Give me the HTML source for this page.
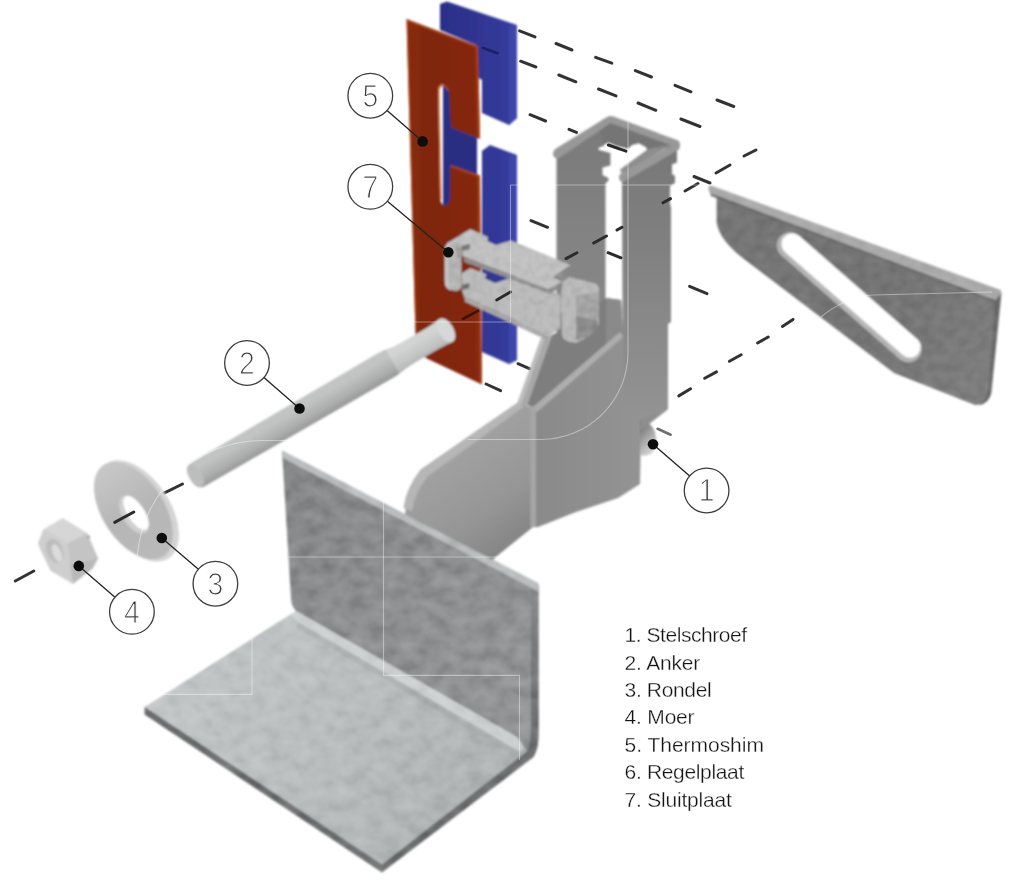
<!DOCTYPE html>
<html lang="nl">
<head>
<meta charset="utf-8">
<title>Exploded view</title>
<style>
html,body{margin:0;padding:0;background:#fff;}
body{width:1020px;height:880px;overflow:hidden;position:relative;font-family:"Liberation Sans",sans-serif;}
svg{position:absolute;left:0;top:0;display:block;}
.legend{position:absolute;left:624.6px;top:621.4px;font-size:21px;line-height:27.36px;color:#141414;white-space:nowrap;-webkit-text-stroke:0.3px #ffffff;filter:blur(0.35px);}
.legend div{height:27.36px;}
</style>
</head>
<body>
<svg width="1020" height="880" viewBox="0 0 1020 880">
<defs>
  <filter id="soft" filterUnits="userSpaceOnUse" x="0" y="0" width="1020" height="880"><feGaussianBlur stdDeviation="0.8"/></filter>
  <filter id="soft2" filterUnits="userSpaceOnUse" x="0" y="0" width="1020" height="880"><feGaussianBlur stdDeviation="0.6"/></filter>
  <filter id="galv" filterUnits="userSpaceOnUse" x="0" y="0" width="1020" height="880" color-interpolation-filters="sRGB">
    <feTurbulence type="fractalNoise" baseFrequency="0.06 0.08" numOctaves="3" seed="7" result="n"/>
    <feColorMatrix in="n" type="matrix" values="0.42 0 0 0 0.30  0.42 0 0 0 0.30  0.42 0 0 0 0.30  0 0 0 0 1" result="g"/>
    <feBlend in="g" in2="SourceGraphic" mode="soft-light" result="bl"/>
    <feComposite in="bl" in2="SourceGraphic" operator="in"/>
  </filter>
  <filter id="galv2" filterUnits="userSpaceOnUse" x="0" y="0" width="1020" height="880" color-interpolation-filters="sRGB">
    <feTurbulence type="fractalNoise" baseFrequency="0.14 0.16" numOctaves="2" seed="3" result="n"/>
    <feColorMatrix in="n" type="matrix" values="0.35 0 0 0 0.33  0.35 0 0 0 0.33  0.35 0 0 0 0.33  0 0 0 0 1" result="g"/>
    <feBlend in="g" in2="SourceGraphic" mode="soft-light" result="bl"/>
    <feComposite in="bl" in2="SourceGraphic" operator="in"/>
  </filter>
  <linearGradient id="gArm" gradientUnits="userSpaceOnUse" x1="715" y1="200" x2="990" y2="380">
    <stop offset="0" stop-color="#767676"/><stop offset="0.6" stop-color="#747474"/><stop offset="1" stop-color="#7e7e7e"/>
  </linearGradient>
  <filter id="galv3" filterUnits="userSpaceOnUse" x="0" y="0" width="1020" height="880" color-interpolation-filters="sRGB">
    <feTurbulence type="fractalNoise" baseFrequency="0.09 0.11" numOctaves="2" seed="11" result="n"/>
    <feColorMatrix in="n" type="matrix" values="0.22 0 0 0 0.39  0.22 0 0 0 0.39  0.22 0 0 0 0.39  0 0 0 0 1" result="g"/>
    <feBlend in="g" in2="SourceGraphic" mode="soft-light" result="bl"/>
    <feComposite in="bl" in2="SourceGraphic" operator="in"/>
  </filter>
  <linearGradient id="gWash" gradientUnits="userSpaceOnUse" x1="-50" y1="0" x2="50" y2="0">
    <stop offset="0" stop-color="#c6c6c6"/><stop offset="0.5" stop-color="#b6b6b6"/><stop offset="1" stop-color="#b9b9b9"/>
  </linearGradient>
  <linearGradient id="gScrew" gradientUnits="userSpaceOnUse" x1="641" y1="430" x2="657" y2="445">
    <stop offset="0" stop-color="#808080"/><stop offset="0.55" stop-color="#b0b0b0"/><stop offset="1" stop-color="#d0d0d0"/>
  </linearGradient>
  <linearGradient id="gBrL" gradientUnits="userSpaceOnUse" x1="440" y1="450" x2="515" y2="550">
    <stop offset="0" stop-color="#a3a3a3"/><stop offset="0.6" stop-color="#969696"/><stop offset="1" stop-color="#838383"/>
  </linearGradient>
  <linearGradient id="gBrR" gradientUnits="userSpaceOnUse" x1="536" y1="0" x2="668" y2="0">
    <stop offset="0" stop-color="#8a8a8a"/><stop offset="1" stop-color="#969696"/>
  </linearGradient>
  <linearGradient id="gWall" gradientUnits="userSpaceOnUse" x1="0" y1="150" x2="0" y2="420">
    <stop offset="0" stop-color="#787878"/><stop offset="0.35" stop-color="#808080"/><stop offset="0.7" stop-color="#8b8b8b"/><stop offset="1" stop-color="#939393"/>
  </linearGradient>
  <linearGradient id="gWallL" gradientUnits="userSpaceOnUse" x1="0" y1="130" x2="0" y2="340">
    <stop offset="0" stop-color="#7a7a7a"/><stop offset="0.5" stop-color="#838383"/><stop offset="1" stop-color="#8a8a8a"/>
  </linearGradient>
  <linearGradient id="gOr" gradientUnits="userSpaceOnUse" x1="406" y1="0" x2="482" y2="0">
    <stop offset="0" stop-color="#8a2c11"/><stop offset="0.25" stop-color="#7f270f"/><stop offset="1" stop-color="#85290f"/>
  </linearGradient>
  <linearGradient id="gBl" gradientUnits="userSpaceOnUse" x1="440" y1="0" x2="512" y2="0">
    <stop offset="0" stop-color="#2a2e86"/><stop offset="1" stop-color="#353c9c"/>
  </linearGradient>
  <linearGradient id="gLedge" gradientUnits="userSpaceOnUse" x1="0" y1="585" x2="0" y2="740">
    <stop offset="0" stop-color="#8e9091"/><stop offset="0.3" stop-color="#797b7c"/><stop offset="1" stop-color="#6c6e6f"/>
  </linearGradient>
  <linearGradient id="gBolt" gradientUnits="userSpaceOnUse" x1="0" y1="-15" x2="0" y2="15">
    <stop offset="0" stop-color="#c3c4c4"/><stop offset="0.3" stop-color="#c2c3c3"/><stop offset="0.7" stop-color="#adaeae"/><stop offset="1" stop-color="#969696"/>
  </linearGradient>
  <linearGradient id="gLh" gradientUnits="userSpaceOnUse" x1="200" y1="650" x2="480" y2="820">
    <stop offset="0" stop-color="#c0c4c5"/><stop offset="0.5" stop-color="#b8bcbd"/><stop offset="1" stop-color="#adb1b2"/>
  </linearGradient>
  <linearGradient id="gLv" gradientUnits="userSpaceOnUse" x1="285" y1="460" x2="540" y2="700">
    <stop offset="0" stop-color="#838586"/><stop offset="0.5" stop-color="#8c8e8f"/><stop offset="1" stop-color="#929495"/>
  </linearGradient>
</defs>
<g id="dashes-back" stroke="#333333" stroke-width="3" stroke-linecap="round" fill="none" filter="url(#soft2)">
<line x1="519.6" y1="30.8" x2="535" y2="36.9"/>
<line x1="556" y1="43.5" x2="572" y2="50"/>
<line x1="595.6" y1="57.4" x2="611.8" y2="63.2"/>
<line x1="635.3" y1="70.6" x2="651.5" y2="77"/>
<line x1="675" y1="85.3" x2="691" y2="91.8"/>
<line x1="717" y1="100" x2="733.8" y2="106.5"/>
<line x1="520.6" y1="61.2" x2="535.9" y2="67"/>
<line x1="558.8" y1="75" x2="575.9" y2="81.8"/>
<line x1="598.5" y1="89" x2="616" y2="95.9"/>
<line x1="638" y1="103" x2="655.9" y2="110.3"/>
<line x1="680.9" y1="119" x2="700" y2="126.5"/>
<line x1="530" y1="114.7" x2="545.6" y2="121"/>
<line x1="569" y1="129.4" x2="576.5" y2="132.4"/>
<line x1="694" y1="176.5" x2="710" y2="183"/>
<line x1="531" y1="220.6" x2="547.6" y2="227.3"/>
<line x1="744" y1="156" x2="756" y2="150"/>
<line x1="716" y1="173" x2="730" y2="165"/>
<line x1="685" y1="191" x2="698" y2="183.5"/>
<line x1="678.8" y1="395.9" x2="690.6" y2="388.8"/>
<line x1="704.7" y1="378.2" x2="716.5" y2="371.9"/>
<line x1="729.4" y1="361.3" x2="741.2" y2="354.7"/>
<line x1="757.6" y1="343" x2="768.2" y2="337"/>
<line x1="782.4" y1="326.5" x2="793" y2="319.4"/>
<line x1="689.6" y1="286.3" x2="707" y2="293.7"/>
<line x1="486" y1="384" x2="500.6" y2="390.6"/>
<line x1="518" y1="363.7" x2="530" y2="368.8"/>
<line x1="15.3" y1="581" x2="33.8" y2="571"/>
<line x1="161" y1="494.6" x2="182.5" y2="484"/>
</g>
<line x1="657.6" y1="428.8" x2="670.6" y2="434.7" stroke="#4a4a4a" stroke-width="2.6" stroke-linecap="round" opacity="0.8" filter="url(#soft2)"/>
<g id="parts" filter="url(#soft)">
<!-- ARM (right) -->
<g id="arm" filter="url(#galv3)">
  <path d="M712,188 L1000,293 L990,392 Q988,405 975,405 L894,373 L821,317.5 L744,259 Q719,240 716.6,222 L716.6,196 Z" fill="url(#gArm)"/>
  <path d="M709.4,185 Q707.5,189 710,193 L996,300.5 L1001.5,293 L1000.5,290 Z" fill="#aaaaaa"/>
  <path d="M710,193 L996,300.5 L995.5,303 L711,196 Z" fill="#6c6c6c"/>
  <path d="M995,301 L1001.5,293 L991.5,392 Q989.5,404 978,405.5 Q987,401 988,391 Z" fill="#6a6a6a"/>
  <path d="M798.2,235.1 L917.7,339.6 A13.2,13.2 0 0 1 900.3,359.4 L780.8,254.9 A13.2,13.2 0 0 1 798.2,235.1 Z" fill="#b6b6b6"/>
  <path d="M799.3,236.1 L916.9,338.9 A10.7,10.7 0 0 1 902.8,355.0 L785.2,252.2 A10.7,10.7 0 0 1 799.3,236.1 Z" fill="#ffffff"/>
</g>
<!-- BLUE SHIM -->
<g id="blue">
  <polygon points="440,4 447,1.5 517,25 517,118 509,125 482,113 482,80 476,76 476,45 440,30" fill="url(#gBl)"/>
  <polygon points="509,26 517,25 517,118 509,125" fill="#3d47aa"/>
  <polygon points="482,151 490,145 517,155 517,360 509,364 482,352" fill="url(#gBl)"/>
  <polygon points="509,156 517,155 517,360 509,364" fill="#3d47aa"/>
  <polygon points="443,84 460,84 477,105 477,350 443,330" fill="#292d82"/>
</g>
<!-- ORANGE SHIM -->
<g id="orange">
  <path d="M406.5,19 L478,46 L480,139 L451,127.5 L449,90.5 Q443,78.5 438,88.5 L440,200 Q445,212 450,200 L450.5,165 L480,175.5 L482,384.5 L428,359 L416,352.5 Z" fill="url(#gOr)"/>
  <path d="M406.5,19 L478,46 L478,48 L407.8,21.5 L417.3,353 L416,352.5 Z" fill="#b04a22" opacity="0.8"/>
  <path d="M438,88.5 Q443,78.5 449,90.5 L448,91.5 Q443,81.5 439.5,89.5 L441.5,200 L440,200 Z" fill="#c0562a" opacity="0.8"/>
  <path d="M450.5,165 L480,175.5 L480,177.5 L450.5,167 Z" fill="#b04a22" opacity="0.8"/>
  <path d="M475.5,45 L478,46 L480,139 L477.5,138 Z" fill="#a84018" opacity="0.85"/>
  <path d="M477.5,174.6 L480,175.5 L482,384.5 L479.5,383.3 Z" fill="#a84018" opacity="0.85"/>
</g>
<!-- U-CHANNEL + BRACKET -->
<g id="bracket">
  <!-- back wall inner face -->
  <polygon points="603,119 677,142 677,147 648,151.5 645.7,147 638.8,143.2 632,145 628,148.8 616.3,146 608.4,142.5 598,148 598,128" fill="#747474"/>
  <!-- left wall face -->
  <polygon points="556.5,157 600,130 604,146 598.6,147.5 598.6,150 603,151 610.4,153 610.4,165.5 602.5,167.5 602.5,175 608.4,178 608.4,181 605.5,183 605.5,345 556.5,345" fill="url(#gWallL)"/>
  <!-- right wall + right column -->
  <polygon points="622,180 677,147 677,162.5 672,164.5 672,174 675,176 675,183 670,186 670,204 671,207.6 671,322 668,324 668,409 641,430 623,430" fill="url(#gWall)"/>
  <polygon points="648,149 672,144.5 623,173.5 619.5,170" fill="#8d8d8d"/>
  <!-- top strips -->
  <path d="M553.2,155.5 Q552.2,151 556,148.5 L607.5,116.8 Q610.4,115.3 613.5,116.6 L677,140 Q680.5,141.6 680,146 L679,149.5 L624,181.5 Q620.5,183 619.2,179 Q618.3,175 621.5,172.8 L671.5,145.5 L610.5,123 L560,157.5 Q555.5,160 553.2,155.5 Z" fill="#989898"/>
  <!-- inner dark region -->
  <polygon points="520,402 546,338 556,333 606,298 621,300 623,333 535,408" fill="#7e7e7e"/>
  <polygon points="606,298 621,300 623,333 606,345" fill="#8a8a8a"/>
  <!-- left flange steep -->
  <polygon points="517,404 541,338 552,336 527,406" fill="#a9a9a9"/>
  <polygon points="517,404 541,338 545,338 521,405" fill="#bdbdbd"/>
  <!-- left plate face -->
  <polygon points="409,489 423,471 473,436 519,404 533,407 533,527 497,556 470,580 404,520" fill="url(#gBrL)"/>
  <!-- right plate face -->
  <polygon points="533,407 620,333 623,333 623,420 668,409 641,430 640,484 618,498 576,512 538,527 533,527" fill="url(#gBrR)"/>
  <!-- diag light strip -->
  <polygon points="533,407 620,332 623,337 537,412" fill="#adadad"/>
  <!-- left flange edge light -->
  <path d="M403.5,508 Q405.5,489 420.5,469.5 L472.5,433.5 L519,401.5 L523,407 L477.5,440.5 L428,476 Q414.5,493 412,511 Z" fill="#b6b6b6"/>
  <!-- bend line -->
  <polygon points="530.5,405.5 536,409.5 536,525.5 530.5,528.5" fill="#a6a6a6"/>
  <!-- stelschroef -->
  <path d="M640,420 Q650,420 655,432 Q659,446 652,453 Q647,457 640,455 Z" fill="url(#gScrew)"/>
  <polygon points="641,418 668,409 641,430" fill="#8f8f8f"/>
</g>
<!-- SLUITPLAAT -->
<g id="sluit" filter="url(#galv2)">
  <!-- lower bar -->
  <polygon points="461.5,273.2 470.3,267.9 486.2,274.1 485.3,278.5 495,282.9 505.6,279.4 510.9,277 549.7,290 560.3,295 560.3,327.9 548,336.8 540.9,331.5 464.1,297.1 461.5,289.1" fill="#bababa"/>
  <polygon points="464.1,297.1 540.9,331.5 548,336.8 545,339 465,301.8" fill="#a9a9a9"/>
  <!-- right clamp -->
  <path d="M562.1,282.1 L569.1,276.8 L593.8,282.9 Q599.1,284.5 599.1,290 L599.1,324.4 L588.5,336.8 L576.2,342.9 Q563,342 562.1,336 L560.3,299.7 Z" fill="#b8b8b8"/>
  <polygon points="576.2,295.5 599.1,293 599.1,324.4 588.5,336.8 576.2,340" fill="#a3a3a3"/>
  <polygon points="576.2,315.6 597.4,320.9 597.4,326 588,337 576.2,340" fill="#8d8d8d"/>
  <!-- upper bar -->
  <polygon points="450,241.5 470.3,229.1 487.9,237.1 487.6,241.1 495.9,245 510.9,240.6 570.9,265.3 559.4,272.4 569.1,277.6 562.1,282.1 547.9,289.1 463.2,256.5 461.5,248.5" fill="#c0c0c0"/>
  <polygon points="463.2,256.5 547.9,289.1 562.1,282.1 562.5,287 549.7,293.8 464.1,262" fill="#8f8f8f"/>
  <polygon points="559.4,272.4 569.1,277.6 562.1,282.1 553,277" fill="#8a8a8a"/>
  <!-- left clamp -->
  <path d="M444.7,252 Q444.7,243.5 450,241.5 L456,241.5 Q461.5,243 461.5,250 L461.5,284 Q461.5,291 456,291 L450,290 Q444.7,288 444.7,280 Z" fill="#b4b4b4"/>
  <path d="M444.7,252 Q444.7,243.5 450,241.5 L452,242.5 Q448,245 448,252 L448,281 Q448,287 451,290.3 L450,290 Q444.7,288 444.7,280 Z" fill="#c6c6c6"/>
  <polygon points="456,247 461.5,248.5 463.2,256.5 457,258" fill="#9a9a9a"/>
  <polygon points="461.5,246 470,243.5 470,249 462,251" fill="#6f6f6f"/>
  <polygon points="461.5,285 469.5,283 469.5,288.5 462.5,290" fill="#6f6f6f"/>
</g>
<!-- BOLT -->
<g id="bolt" transform="translate(197,475) rotate(-30.2)">
  <path d="M0,-13.6 L218,-14.2 Q226,-14 234,-12 L246,-11.5 L272,-11.5 Q282,-12 288,-13 L288,13.5 Q282,13 272,12.5 L246,12.5 L234,13 Q226,14.5 218,14.6 L0,13.6 Q-8,13 -8,0 Q-8,-13 0,-13.6 Z" fill="url(#gBolt)"/>
  <path d="M226,-14 Q230,-13.5 234,-12 L246,-11.5 L272,-11.5 Q282,-12 288,-13 L288,13.5 Q282,13 272,12.5 L246,12.5 L234,13 Q230,14 226,14.5 Z" fill="#ffffff" opacity="0.28"/>
  <ellipse cx="288" cy="0.2" rx="7.5" ry="13.2" fill="#d6d8d8"/>
  <ellipse cx="-1.5" cy="0" rx="6.5" ry="12.3" fill="#bcbdbd"/>
</g>
<!-- L PLATE -->
<g id="lplate" filter="url(#galv)">
  <!-- edge thickness (dark) -->
  <path d="M144.5,706.5 L144.5,714.5 L382,872.5 L533,757.5 Q538.5,750 538.5,735 L538.5,584.5 L536,582 L530,720 L382,864 Z" fill="#6a6c6d"/>
  <!-- horizontal flange -->
  <path d="M145,707 L296,611 L517,737 L527.5,751 L382,864.5 Z" fill="url(#gLh)"/>
  <!-- vertical flange -->
  <path d="M282,451 L531,580 L531,730 Q530.5,744 527.5,751 Q522,745 517,737 L296,611 Q291,606 291,598 Z" fill="url(#gLv)"/>
  <!-- right edge band -->
  <path d="M531,580 L536.5,582.5 L538.5,584.5 L538.5,735 Q538.5,750 533,757.5 L527.5,751 Q531,744 531,730 Z" fill="url(#gLedge)"/>
  <!-- top light strip -->
  <path d="M282,450.5 L536,582 L538.5,584.5 L538.5,591.5 L283,458 Z" fill="#b9bcbd"/>
  <!-- bend highlight -->
  <path d="M296,611 L517,737 L525,748.5 L520,752 L298,622 L291,614.5 Z" fill="#d0d3d4" opacity="0.85"/>
  <path d="M298,622 L520,752 L516,757 L297,628 Z" fill="#a4a8a9" opacity="0.5"/>
</g>
<!-- WASHER -->
<g id="washer" transform="translate(135.5,511) rotate(57)">
  <ellipse cx="1.2" cy="-2" rx="56.5" ry="32.4" fill="#d4d4d4"/>
  <ellipse cx="-1.5" cy="1.6" rx="54.5" ry="31" fill="url(#gWash)"/>
  <ellipse cx="2.2" cy="3.4" rx="21.5" ry="11.2" fill="#cfcfcf"/>
  <ellipse cx="1.8" cy="0.6" rx="19.5" ry="8.4" fill="#ffffff"/>
</g>
<!-- NUT -->
<g id="nut">
  <polygon points="38.3,543.3 43.4,529.5 62.8,518.3 87.4,533.6 98.1,558.2 92.5,568.4 73.1,583.7 50.6,570.4 40.3,549" fill="#c4c4c4"/>
  <polygon points="38.3,543.3 43.4,529.5 68,543 70.5,565 73.1,583.7 50.6,570.4 40.3,549" fill="#cecece"/>
  <polygon points="43.4,529.5 62.8,518.3 87.4,533.6 68,543" fill="#d6d6d6"/>
  <polygon points="70.5,565 98.1,558.2 92.5,568.4 73.1,583.7" fill="#b9b9b9"/>
  <ellipse cx="54.7" cy="551" rx="8.2" ry="12.5" fill="#bdbdbd" transform="rotate(-22 54.7 551)"/>
  <ellipse cx="57" cy="553" rx="4.2" ry="9.5" fill="#dcdcdc" transform="rotate(-22 57 553)"/>
  <ellipse cx="88.5" cy="537" rx="1.6" ry="2" fill="#aaaaaa"/>
</g>

</g>
<g id="dashes-front" stroke="#2c2c2c" stroke-width="3" stroke-linecap="round" fill="none" filter="url(#soft2)">
<line x1="608.4" y1="145" x2="626" y2="151.2"/>
<line x1="608" y1="252.7" x2="621" y2="257.8"/>
<line x1="663" y1="202.7" x2="670.5" y2="198.6"/>
<line x1="617" y1="230" x2="622" y2="227.2"/>
<line x1="593.7" y1="243" x2="606.5" y2="236"/>
<line x1="566" y1="258.6" x2="577" y2="252.7"/>
<line x1="496.7" y1="300" x2="510.4" y2="292"/>
<line x1="114.7" y1="522.4" x2="133.8" y2="512"/>
</g>
<line x1="483" y1="48" x2="497.6" y2="53.2" stroke="#1b1f5c" stroke-width="2.8" stroke-linecap="round" opacity="0.85" filter="url(#soft2)"/>
<line x1="463" y1="318.8" x2="478" y2="310.8" stroke="#2a0d06" stroke-width="2.6" stroke-linecap="round" opacity="0.8" filter="url(#soft2)"/>
<g id="watermark" fill="none" stroke="#ffffff" stroke-opacity="0.4" stroke-width="1.1">
<path d="M510.5,185 L848,185 M628,121 L628,352 A87,87 0 0 1 541,439.5 L468,439.5"/>
<path d="M510.5,185 L510.5,322 L410,322"/>
<path d="M300,440.5 L262,440.5 A125,125 0 0 0 137,565.5"/>
<path d="M383.5,498 L383.5,675.4 L519.5,675.4 L519.5,760"/>
<path d="M288,557 L532,557"/>
<path d="M252,634 L252,694.4 L160,694.4"/>
<path d="M821,317 Q845,297 872,295 L992,292"/>

</g>
<g id="callouts" filter="url(#soft2)">
<g><line x1="689.7" y1="475.9" x2="653" y2="444.2" stroke="#222" stroke-width="1.3"/><circle cx="653" cy="444.2" r="5.3" fill="#111"/><circle cx="706.6" cy="490.5" r="22.35" fill="#fff" stroke="#3c3c3c" stroke-width="1.3"/><text x="0" y="501.4" transform="translate(706.6,0) scale(0.9,1)" text-anchor="middle" font-size="31.5" fill="#3a3a3a" stroke="#ffffff" stroke-width="1.1" font-family="Liberation Sans, sans-serif">1</text></g><g><line x1="263.9" y1="377.6" x2="299.5" y2="408.5" stroke="#222" stroke-width="1.3"/><circle cx="299.5" cy="408.5" r="5.3" fill="#111"/><circle cx="247" cy="363" r="22.35" fill="#fff" stroke="#3c3c3c" stroke-width="1.3"/><text x="0" y="373.9" transform="translate(247,0) scale(0.9,1)" text-anchor="middle" font-size="31.5" fill="#3a3a3a" stroke="#ffffff" stroke-width="1.1" font-family="Liberation Sans, sans-serif">2</text></g><g><line x1="198.4" y1="569.2" x2="161.8" y2="538" stroke="#222" stroke-width="1.3"/><circle cx="161.8" cy="538" r="5.3" fill="#111"/><circle cx="215.4" cy="583.7" r="22.35" fill="#fff" stroke="#3c3c3c" stroke-width="1.3"/><text x="0" y="594.6" transform="translate(215.4,0) scale(0.9,1)" text-anchor="middle" font-size="31.5" fill="#3a3a3a" stroke="#ffffff" stroke-width="1.1" font-family="Liberation Sans, sans-serif">3</text></g><g><line x1="115.0" y1="597.2" x2="78.8" y2="565.9" stroke="#222" stroke-width="1.3"/><circle cx="78.8" cy="565.9" r="5.3" fill="#111"/><circle cx="131.9" cy="611.8" r="22.35" fill="#fff" stroke="#3c3c3c" stroke-width="1.3"/><text x="0" y="622.7" transform="translate(131.9,0) scale(0.9,1)" text-anchor="middle" font-size="31.5" fill="#3a3a3a" stroke="#ffffff" stroke-width="1.1" font-family="Liberation Sans, sans-serif">4</text></g><g><line x1="387.1" y1="110.4" x2="422.6" y2="141.4" stroke="#222" stroke-width="1.3"/><circle cx="422.6" cy="141.4" r="5.3" fill="#111"/><circle cx="370.3" cy="95.7" r="22.35" fill="#fff" stroke="#3c3c3c" stroke-width="1.3"/><text x="0" y="106.6" transform="translate(370.3,0) scale(0.9,1)" text-anchor="middle" font-size="31.5" fill="#3a3a3a" stroke="#ffffff" stroke-width="1.1" font-family="Liberation Sans, sans-serif">5</text></g><g><line x1="387.4" y1="201.2" x2="448.3" y2="252.2" stroke="#222" stroke-width="1.3"/><circle cx="448.3" cy="252.2" r="5.3" fill="#111"/><circle cx="370.3" cy="186.8" r="22.35" fill="#fff" stroke="#3c3c3c" stroke-width="1.3"/><text x="0" y="197.7" transform="translate(370.3,0) scale(0.9,1)" text-anchor="middle" font-size="31.5" fill="#3a3a3a" stroke="#ffffff" stroke-width="1.1" font-family="Liberation Sans, sans-serif">7</text></g>
</g>
</svg>
<div class="legend">
<div style="letter-spacing:-0.46px">1. Stelschroef</div>
<div style="letter-spacing:-0.19px">2. Anker</div>
<div style="letter-spacing:-0.36px">3. Rondel</div>
<div style="letter-spacing:-0.2px">4. Moer</div>
<div style="letter-spacing:-0.03px">5. Thermoshim</div>
<div style="letter-spacing:-0.34px">6. Regelplaat</div>
<div style="letter-spacing:-0.21px">7. Sluitplaat</div>
</div>
</body>
</html>
